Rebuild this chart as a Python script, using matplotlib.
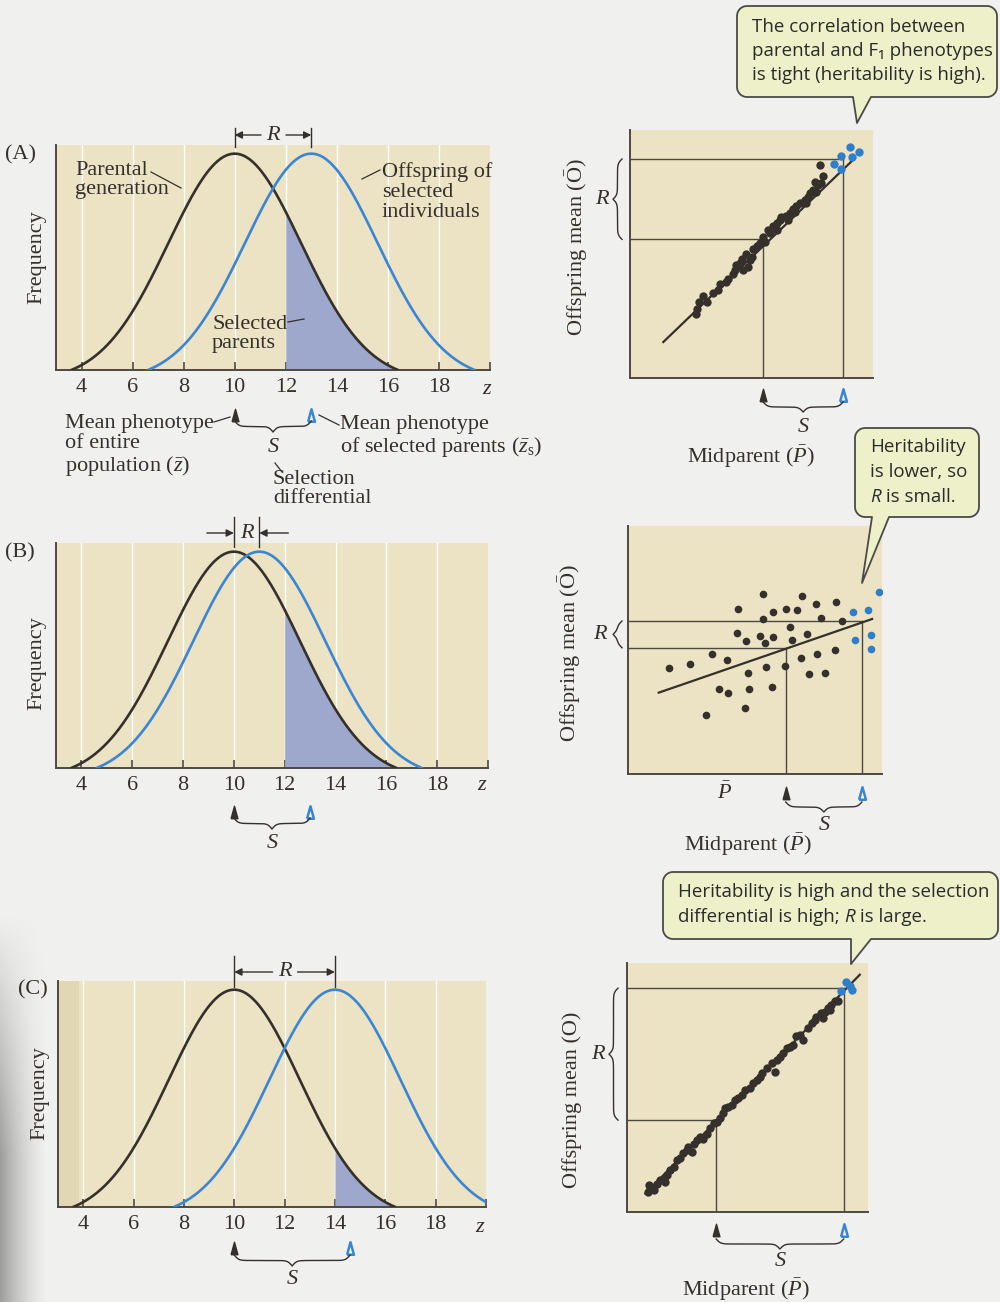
import numpy as np
import matplotlib.pyplot as plt
from matplotlib.patches import Polygon

plt.rcParams['font.family'] = ['Liberation Serif', 'DejaVu Serif']
plt.rcParams['mathtext.fontset'] = 'custom'
plt.rcParams['mathtext.rm'] = 'Liberation Serif'
plt.rcParams['mathtext.it'] = 'Liberation Serif:italic'
plt.rcParams['mathtext.bf'] = 'Liberation Serif:bold'

W, H = 1000, 1302
PAGE = '#f0f0ee'
BEIGE = '#ebe3c3'
SHADE = '#9ea7cc'
BLUE = '#3a86d5'
DOTBLUE = '#2f7ec9'
DARK = '#35302c'
GUIDE = '#4d4843'
CALLOUT = '#eef0c9'
SANS = ['Open Sans', 'DejaVu Sans']
FS = 16

# distribution panels A, B, C
z_ticks = [4, 6, 8, 10, 12, 14, 16, 18]
parent_mean = [10, 10, 10]
offspring_mean = [13, 11, 14]
cutoff = [12, 12, 14]
selected_mean = [13, 13, 14.6]
curve_sd = 2.6
curve_reach = 6.4

# scatter A (tight)
a_x = [2.71, 2.77, 3.01, 2.85, 3.15, 3.63, 3.70, 3.97, 4.04, 4.25, 4.32, 4.38, 4.59, 4.63,
       4.86, 4.93, 5.00, 4.79, 5.07, 5.21, 5.34, 5.48, 5.68, 5.75, 5.89, 6.03, 6.16, 6.23,
       6.44, 6.51, 6.58, 6.71, 6.85, 6.99, 7.19, 7.33, 7.40, 7.53, 7.67, 7.74, 7.84, 7.95,
       7.81, 7.60, 7.26, 6.78, 6.03, 5.55, 4.52, 3.42]
a_y = [2.60, 2.80, 3.30, 3.07, 3.07, 3.54, 3.81, 3.88, 4.01, 4.21, 4.37, 4.55, 4.78, 4.37,
       4.48, 4.75, 4.89, 5.02, 5.22, 5.33, 5.45, 5.69, 5.96, 5.83, 6.12, 6.23, 6.37, 6.50,
       6.53, 6.37, 6.66, 6.80, 6.93, 7.04, 7.17, 7.31, 7.44, 7.58, 7.51, 7.78, 7.87, 8.14,
       8.59, 7.91, 7.04, 6.70, 5.96, 5.49, 4.62, 3.41]
a_sel_x = [9.04, 9.42, 8.70, 9.14, 8.40, 8.67]
a_sel_y = [9.33, 9.11, 8.97, 8.93, 8.63, 8.43]
a_line_x = [1.37, 9.25]
a_line_y = [1.45, 8.86]
a_mean = (5.48, 5.59)
a_sel_mean = (8.77, 8.83)

# scatter B (loose)
b_x = [1.62, 2.46, 3.29, 3.88, 4.34, 4.28, 4.63, 5.30, 5.70, 5.30, 5.20, 5.39, 5.72, 6.21,
       6.67, 6.87, 7.39, 8.17, 7.59, 8.42, 6.38, 6.47, 7.04, 6.83, 7.46, 8.16, 6.17, 5.42,
       4.74, 7.11, 7.74, 3.57, 3.92, 4.78, 5.67, 4.62, 3.07]
b_y = [4.29, 4.42, 4.83, 4.60, 6.64, 5.67, 5.36, 7.24, 6.52, 6.25, 5.56, 5.27, 5.51, 6.65,
       6.61, 7.18, 6.84, 6.92, 6.28, 6.17, 5.94, 5.40, 5.63, 4.66, 4.83, 5.00, 4.37, 4.30,
       4.06, 4.03, 4.06, 3.44, 3.28, 3.44, 3.49, 2.66, 2.37]
b_sel_x = [8.86, 9.43, 9.89, 8.92, 9.58, 9.58]
b_sel_y = [6.52, 6.63, 7.33, 5.40, 5.60, 5.03]
b_line_x = [1.21, 9.61]
b_line_y = [3.28, 6.25]
b_mean = (6.21, 5.09)
b_sel_mean = (9.21, 6.17)

# scatter C (tight, strong selection)
c_x = [0.86, 0.97, 0.90, 1.10, 1.24, 1.38, 1.52, 1.66, 1.59, 1.79, 1.93, 2.07, 2.21, 2.34,
       2.48, 2.55, 2.69, 2.76, 2.90, 3.03, 3.17, 3.31, 3.45, 3.59, 3.72, 3.86, 4.00, 4.07,
       4.21, 4.34, 4.48, 4.62, 4.76, 4.90, 5.10, 5.24, 5.38, 5.52, 5.59, 5.79, 6.00, 6.14,
       6.21, 6.34, 6.48, 6.62, 6.76, 6.90, 7.03, 7.17, 7.31, 7.52, 7.66, 7.79, 7.86, 8.07,
       8.21, 8.34, 8.48, 8.62, 8.76, 8.14, 8.41]
c_y = [0.81, 0.94, 1.07, 0.87, 1.14, 1.28, 1.34, 1.48, 1.21, 1.68, 1.81, 2.08, 2.15, 2.35,
       2.48, 2.62, 2.42, 2.75, 2.89, 3.02, 2.95, 3.15, 3.36, 3.56, 3.62, 3.76, 3.96, 4.16,
       4.23, 4.30, 4.50, 4.56, 4.70, 4.90, 4.97, 5.17, 5.30, 5.44, 5.57, 5.77, 5.97, 5.64,
       6.11, 6.24, 6.38, 6.58, 6.64, 6.71, 7.05, 7.11, 6.91, 7.38, 7.58, 7.72, 7.85, 7.99,
       8.05, 8.19, 8.32, 8.46, 8.46, 7.79, 8.12]
c_sel_x = [8.87, 9.10, 9.34, 9.24]
c_sel_y = [8.89, 9.23, 8.93, 9.06]
c_line_x = [0.76, 9.66]
c_line_y = [0.74, 9.53]
c_mean = (3.70, 3.69)
c_sel_mean = (8.99, 8.99)

fig = plt.figure(figsize=(10, 13.02), dpi=100, facecolor=PAGE)

bg = fig.add_axes([0, 0, 1, 1], zorder=-10)
bg.set_xlim(0, W)
bg.set_ylim(H, 0)
bg.axis('off')
# book gutter shadow on the lower left edge
gx = np.linspace(1.0, 0.0, 60) ** 1.5
gy = np.clip(np.linspace(-0.3, 1.6, 120), 0, 1)[:, None]
alpha = 0.62 * gy * gx[None, :]
shadow = np.dstack([np.full_like(alpha, 0.42)] * 3 + [alpha])
bg.imshow(shadow, extent=(0, 48, H, 840), aspect='auto', interpolation='bilinear')

ov = fig.add_axes([0, 0, 1, 1], zorder=10)
ov.set_xlim(0, W)
ov.set_ylim(H, 0)
ov.axis('off')
ov.patch.set_alpha(0)


def add_ax(l, t, r, b):
    return fig.add_axes([l / W, 1 - b / H, (r - l) / W, (b - t) / H])


def to_px(ax, x, y=0):
    d = ax.transData.transform((x, y))
    return d[0], H - d[1]


def curve(z, mu):
    c = np.exp(-curve_reach ** 2 / (2 * curve_sd ** 2))
    g = np.exp(-(z - mu) ** 2 / (2 * curve_sd ** 2))
    y = (g - c) / (1 - c)
    return np.where(np.abs(z - mu) <= curve_reach, y, np.nan)


def hbrace(x0, x1, ytop, depth, lw=1.0):
    n = 301
    xs = np.linspace(x0, x1, n)
    half = xs[:n // 2 + 1]
    beta = 0.45
    yh = 1 / (1 + np.exp(-beta * (half - half[0]))) + 1 / (1 + np.exp(-beta * (half - half[-1])))
    yy = np.concatenate((yh, yh[-2::-1]))
    ov.plot(xs, ytop + (yy - 0.5) * depth, color=DARK, lw=lw)


def vbrace(y0, y1, xright, depth, lw=1.0):
    n = 301
    ys = np.linspace(y0, y1, n)
    half = ys[:n // 2 + 1]
    beta = 0.45
    xh = 1 / (1 + np.exp(-beta * (half - half[0]))) + 1 / (1 + np.exp(-beta * (half - half[-1])))
    xx = np.concatenate((xh, xh[-2::-1]))
    ov.plot(xright - (xx - 0.5) * depth, ys, color=DARK, lw=lw)


def triangles(ax, x_black, x_blue, py, t, b):
    yf = (b - py) / (b - t)
    tri = [(-0.55, -1), (0.55, -1), (0, 1), (-0.55, -1)]
    tr = ax.get_xaxis_transform()
    ax.plot([x_black], [yf], marker=tri, ms=9, color=DARK, mec=DARK, transform=tr, clip_on=False)
    ax.plot([x_blue], [yf], marker=tri, ms=9, mfc='#f2f2f0', mec=BLUE, mew=1.8,
            transform=tr, clip_on=False)


# ---------------- distribution panels ----------------
curve_rects = [(56, 145, 490, 370), (56, 543, 488, 768), (58, 981, 486, 1207)]
tri_py = [415, 812, 1248]
brace_py = [421, 818, 1255]
s_py = [448, 843, 1279]
r_tick = [(128, 147), (517, 547), (956, 987)]
r_row = [135, 533, 972]
freq_pos = [(37, 257), (37, 663), (40, 1093)]
panel_lab = [('(A)', 5, 155), ('(B)', 5, 553), ('(C)', 18, 990)]
z_lab = [(487, 390), (482, 786), (480, 1227)]

for i, (l, t, r, b) in enumerate(curve_rects):
    ax = add_ax(l, t, r, b)
    ax.set_facecolor(BEIGE)
    if i == 2:
        ax.axvspan(3, 3.85, color='#e2d7b4', lw=0, zorder=0)
    for zt in z_ticks:
        ax.axvline(zt, color='white', lw=1.0, zorder=1)
    z = np.linspace(3, 20.5, 800)
    zz = np.linspace(cutoff[i], parent_mean[i] + curve_reach, 300)
    ax.fill_between(zz, 0, curve(zz, parent_mean[i]), color=SHADE, lw=0, zorder=2)
    ax.plot(z, curve(z, parent_mean[i]), color=DARK, lw=1.9, zorder=3)
    ax.plot(z, curve(z, offspring_mean[i]), color=BLUE, lw=1.9, zorder=3)
    ax.set_xlim(3, 20)
    ax.set_ylim(0, 1.04)
    ax.set_xticks(z_ticks)
    ax.set_xticks([20], minor=True)
    ax.set_yticks([])
    ax.tick_params(axis='x', which='both', direction='in', length=6, width=1.2, color=GUIDE,
                   labelsize=FS, pad=6, labelcolor=DARK)
    for s in ['top', 'right']:
        ax.spines[s].set_visible(False)
    for s in ['left', 'bottom']:
        ax.spines[s].set_color(GUIDE)
        ax.spines[s].set_linewidth(1.4)
    triangles(ax, parent_mean[i], selected_mean[i], tri_py[i], t, b)

    x0 = to_px(ax, parent_mean[i])[0]
    x1 = to_px(ax, selected_mean[i])[0]
    hbrace(x0, x1, brace_py[i], 11)
    ov.text((x0 + x1) / 2, s_py[i], 'S', style='italic', fontsize=FS, ha='center', va='center', color=DARK)

    # R bracket above the curves
    m0 = to_px(ax, parent_mean[i])[0]
    m1 = to_px(ax, offspring_mean[i])[0]
    ov.plot([m0, m0], r_tick[i], color=DARK, lw=1)
    ov.plot([m1, m1], r_tick[i], color=DARK, lw=1)
    mid = (m0 + m1) / 2
    aprops = dict(arrowstyle='-|>', color=DARK, lw=1, mutation_scale=11, shrinkA=0, shrinkB=0)
    if i == 1:
        ov.annotate('', xy=(m0, r_row[i]), xytext=(m0 - 27, r_row[i]), arrowprops=aprops)
        ov.annotate('', xy=(m1, r_row[i]), xytext=(m1 + 29, r_row[i]), arrowprops=aprops)
    else:
        ov.annotate('', xy=(m0, r_row[i]), xytext=(mid - 12, r_row[i]), arrowprops=aprops)
        ov.annotate('', xy=(m1, r_row[i]), xytext=(mid + 13, r_row[i]), arrowprops=aprops)
    ov.text(mid, r_row[i], 'R', style='italic', fontsize=FS, ha='center', va='center', color=DARK)

    ov.text(freq_pos[i][0], freq_pos[i][1], 'Frequency', rotation=90, fontsize=FS,
            ha='center', va='center', color=DARK)
    ov.text(panel_lab[i][1], panel_lab[i][2], panel_lab[i][0], fontsize=FS, ha='left', va='center', color=DARK)
    ov.text(z_lab[i][0], z_lab[i][1], 'z', style='italic', fontsize=FS, ha='center', va='center', color=DARK)

# panel A labels
lab = dict(fontsize=FS, color=DARK, linespacing=1.05)
ov.text(75, 180, 'Parental\ngeneration', ha='left', va='center', **lab)
ov.plot([151, 181], [172, 188], color=DARK, lw=0.9)
ov.text(382, 192, 'Offspring of\nselected\nindividuals', ha='left', va='center', **lab)
ov.plot([362, 380], [179, 170], color=DARK, lw=0.9)
ov.text(212, 334, 'Selected\nparents', ha='left', va='center', **lab)
ov.plot([288, 304], [322, 319], color=DARK, lw=0.9)
ov.text(65, 446, 'Mean phenotype\nof entire\npopulation ($\\bar{z}$)', ha='left', va='center', **lab)
ov.plot([214, 230], [422, 417], color=DARK, lw=0.9)
ov.text(340, 437, 'Mean phenotype\nof selected parents ($\\bar{z}_{\\mathrm{s}}$)', ha='left', va='center', **lab)
ov.plot([319, 339], [415, 425], color=DARK, lw=0.9)
ov.plot([275, 282], [463, 472], color=DARK, lw=0.9)
ov.text(273, 489, 'Selection\ndifferential', ha='left', va='center', fontsize=FS, color=DARK, linespacing=0.95)

# ---------------- scatter panels ----------------
scatter_rects = [(630, 130, 873, 378), (628, 526, 882, 774), (627, 963, 868, 1212)]
sc_data = [
    (a_x, a_y, a_sel_x, a_sel_y, a_line_x, a_line_y, a_mean, a_sel_mean, 6.0),
    (b_x, b_y, b_sel_x, b_sel_y, b_line_x, b_line_y, b_mean, b_sel_mean, 5.5),
    (c_x, c_y, c_sel_x, c_sel_y, c_line_x, c_line_y, c_mean, c_sel_mean, 6.0),
]
sc_tri_py = [395, 793, 1230]
sc_brace_py = [402, 802, 1239]
sc_s_py = [428, 825, 1262]
mid_lab = [(751, 457), (748, 845), (746, 1290)]
off_lab = [(577, 247), (570, 653), (572, 1100)]
off_text = ['Offspring mean ($\\bar{\\mathrm{O}}$)', 'Offspring mean ($\\bar{\\mathrm{O}}$)',
            'Offspring mean (O)']
r_brace_x = [622, 622, 618]
r_text_x = [602, 600, 598]

for i, (l, t, r, b) in enumerate(scatter_rects):
    xs, ys, sx, sy, lx, ly, mn, sm, ms = sc_data[i]
    ax = add_ax(l, t, r, b)
    ax.set_facecolor(BEIGE)
    for gxx, gyy in [mn, sm]:
        ax.plot([0, gxx], [gyy, gyy], color=GUIDE, lw=1.0)
        ax.plot([gxx, gxx], [0, gyy], color=GUIDE, lw=1.0)
    ax.plot(lx, ly, color=DARK, lw=1.6)
    ax.plot(xs, ys, 'o', color=DARK, ms=ms, mec='none')
    ax.plot(sx, sy, 'o', color=DOTBLUE, ms=ms, mec='none')
    ax.set_xlim(0, 10)
    ax.set_ylim(0, 10)
    ax.set_xticks([])
    ax.set_yticks([])
    for s in ['top', 'right']:
        ax.spines[s].set_visible(False)
    for s in ['left', 'bottom']:
        ax.spines[s].set_color(GUIDE)
        ax.spines[s].set_linewidth(1.4)
    triangles(ax, mn[0], sm[0], sc_tri_py[i], t, b)

    x0 = to_px(ax, mn[0])[0]
    x1 = to_px(ax, sm[0])[0]
    hbrace(x0, x1, sc_brace_py[i], 10)
    ov.text((x0 + x1) / 2, sc_s_py[i], 'S', style='italic', fontsize=FS, ha='center', va='center', color=DARK)
    ov.text(mid_lab[i][0], mid_lab[i][1], 'Midparent ($\\bar{P}$)', fontsize=FS, ha='center', va='center', color=DARK)
    ov.text(off_lab[i][0], off_lab[i][1], off_text[i], rotation=90, fontsize=FS, ha='center', va='center', color=DARK)

    y0 = to_px(ax, 0, sm[1])[1]
    y1 = to_px(ax, 0, mn[1])[1]
    vbrace(y0, y1, r_brace_x[i], 9)
    ov.text(r_text_x[i], (y0 + y1) / 2, 'R', style='italic', fontsize=FS, ha='center', va='center', color=DARK)

ov.text(725, 793, '$\\bar{P}$', fontsize=FS, ha='center', va='center', color=DARK)


# ---------------- callouts ----------------
def callout(x0, y0, x1, y1, tb0, tb1, tip, r=10):
    pts = []

    def arc(cx, cy, a0, a1):
        for a in np.linspace(a0, a1, 10):
            pts.append((cx + r * np.cos(a), cy + r * np.sin(a)))
    arc(x0 + r, y0 + r, np.pi, 1.5 * np.pi)
    arc(x1 - r, y0 + r, 1.5 * np.pi, 2 * np.pi)
    arc(x1 - r, y1 - r, 0, 0.5 * np.pi)
    pts += [(tb1, y1), tip, (tb0, y1)]
    arc(x0 + r, y1 - r, 0.5 * np.pi, np.pi)
    ov.add_patch(Polygon(pts, closed=True, fc=CALLOUT, ec='#4a4a48', lw=1.3, joinstyle='round'))


renderer = fig.canvas.get_renderer()


def text_w(s, style, size):
    t1 = ov.text(0, 0, s + '.', fontsize=size, family=SANS, style=style)
    t2 = ov.text(0, 0, '.', fontsize=size, family=SANS, style=style)
    w = t1.get_window_extent(renderer).width - t2.get_window_extent(renderer).width
    t1.remove()
    t2.remove()
    return w


def rich_line(x, y, parts, size):
    for s, style in parts:
        ov.text(x, y, s, fontsize=size, family=SANS, style=style, ha='left', va='center', color='#2b2b2b')
        x += text_w(s, style, size)


CS = 13.5
callout(737, 6, 997, 97, 853, 871, (857, 123))
rich_line(752, 27, [('The correlation between', 'normal')], CS)
rich_line(752, 51, [('parental and F\u2081 phenotypes', 'normal')], CS)
rich_line(752, 75, [('is tight (heritability is high).', 'normal')], CS)

callout(855, 428, 979, 517, 872, 889, (862, 583))
rich_line(870, 447, [('Heritability', 'normal')], CS)
rich_line(870, 472, [('is lower, so', 'normal')], CS)
rich_line(870, 497, [('R', 'italic'), (' is small.', 'normal')], CS)

callout(663, 872, 998, 939, 851, 871, (851, 964))
rich_line(678, 892, [('Heritability is high and the selection', 'normal')], CS)
rich_line(678, 917, [('differential is high; ', 'normal'), ('R', 'italic'), (' is large.', 'normal')], CS)

fig.savefig('out.png', dpi=100, facecolor=PAGE)
